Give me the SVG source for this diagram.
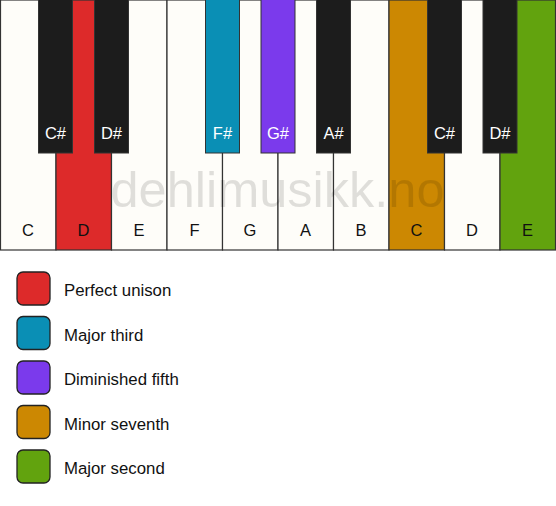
<svg xmlns="http://www.w3.org/2000/svg" width="556" height="506" viewBox="0 0 556 506">
<style>
.w{fill:#fefdf9;stroke:#333;stroke-width:1.2}
.b{fill:#1c1c1c;stroke:#333;stroke-width:1}
.lw{font-family:"Liberation Sans",Arial,sans-serif;font-size:16.5px;fill:#111;text-anchor:middle}
.lb{font-family:"Liberation Sans",Arial,sans-serif;font-size:16.5px;fill:#fff;text-anchor:middle}
.lg{font-family:"Liberation Sans",Arial,sans-serif;font-size:16.8px;fill:#111}
.sq{stroke:#222;stroke-width:1.3}
</style>
<rect width="556" height="506" fill="#fff"/>
<g id="white-keys">
<g id="w-C1"><rect class="w" x="0.5" y="0" width="55.5" height="250"/><text class="lw" x="28" y="236">C</text></g>
<g id="w-D1"><rect class="w" x="56" y="0" width="55.5" height="250" style="fill:#dd2a2a"/><text class="lw" x="83.5" y="236">D</text></g>
<g id="w-E1"><rect class="w" x="111.5" y="0" width="55.5" height="250"/><text class="lw" x="139" y="236">E</text></g>
<g id="w-F1"><rect class="w" x="167" y="0" width="55.5" height="250"/><text class="lw" x="194.5" y="236">F</text></g>
<g id="w-G1"><rect class="w" x="222.5" y="0" width="55.5" height="250"/><text class="lw" x="250" y="236">G</text></g>
<g id="w-A1"><rect class="w" x="278" y="0" width="55.5" height="250"/><text class="lw" x="305.5" y="236">A</text></g>
<g id="w-B1"><rect class="w" x="333.5" y="0" width="55.5" height="250"/><text class="lw" x="361" y="236">B</text></g>
<g id="w-C2"><rect class="w" x="389" y="0" width="55.5" height="250" style="fill:#cc8802"/><text class="lw" x="416.5" y="236">C</text></g>
<g id="w-D2"><rect class="w" x="444.5" y="0" width="55.5" height="250"/><text class="lw" x="472" y="236">D</text></g>
<g id="w-E2"><rect class="w" x="500" y="0" width="55.5" height="250" style="fill:#62a30e"/><text class="lw" x="527.5" y="236">E</text></g>
</g>
<text id="watermark" x="277.5" y="207" font-family="'Liberation Sans',Arial,sans-serif" font-size="50.5" fill="#000" fill-opacity="0.12" text-anchor="middle">dehlimusikk.no</text>
<g id="black-keys">
<g id="b-Cs1"><rect class="b" x="38.5" y="-1" width="34" height="154"/><text class="lb" x="55.5" y="139">C#</text></g>
<g id="b-Ds1"><rect class="b" x="94.5" y="-1" width="34" height="154"/><text class="lb" x="111.5" y="139">D#</text></g>
<g id="b-Fs1"><rect class="b" x="205.5" y="-1" width="34" height="154" style="fill:#0a8fb5"/><text class="lb" x="222.5" y="139">F#</text></g>
<g id="b-Gs1"><rect class="b" x="261" y="-1" width="34" height="154" style="fill:#7b3aec"/><text class="lb" x="278" y="139">G#</text></g>
<g id="b-As1"><rect class="b" x="316.5" y="-1" width="34" height="154"/><text class="lb" x="333.5" y="139">A#</text></g>
<g id="b-Cs2"><rect class="b" x="427.5" y="-1" width="34" height="154"/><text class="lb" x="444.5" y="139">C#</text></g>
<g id="b-Ds2"><rect class="b" x="483" y="-1" width="34" height="154"/><text class="lb" x="500" y="139">D#</text></g>
</g>
<g id="legend">
<g id="lg-unison"><rect class="sq" x="17" y="272" width="33" height="33" rx="6" fill="#dd2a2a"/><text class="lg" x="64" y="296">Perfect unison</text></g>
<g id="lg-third"><rect class="sq" x="17" y="316.5" width="33" height="33" rx="6" fill="#0a8fb5"/><text class="lg" x="64" y="340.5">Major third</text></g>
<g id="lg-fifth"><rect class="sq" x="17" y="361" width="33" height="33" rx="6" fill="#7b3aec"/><text class="lg" x="64" y="385">Diminished fifth</text></g>
<g id="lg-seventh"><rect class="sq" x="17" y="405.5" width="33" height="33" rx="6" fill="#cc8802"/><text class="lg" x="64" y="429.5">Minor seventh</text></g>
<g id="lg-second"><rect class="sq" x="17" y="450" width="33" height="33" rx="6" fill="#62a30e"/><text class="lg" x="64" y="474">Major second</text></g>
</g>
</svg>
